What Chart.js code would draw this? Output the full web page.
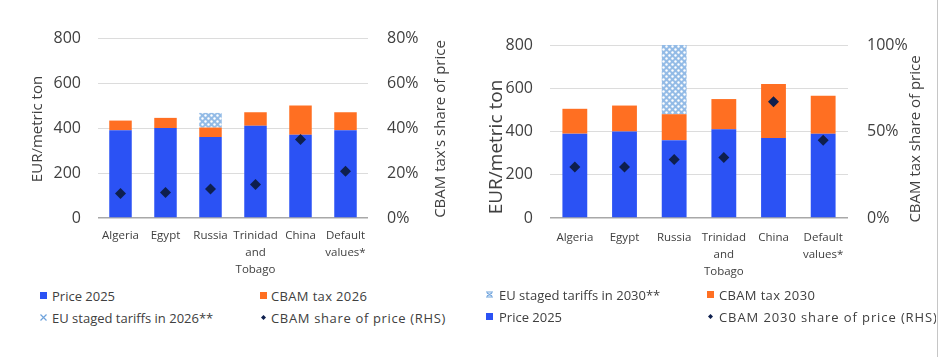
<!DOCTYPE html>
<html><head><meta charset="utf-8">
<script src="https://cdn.jsdelivr.net/npm/chart.js@4/dist/chart.umd.min.js"></script>
<style>
html,body{margin:0;padding:0;background:#fff;}
body{width:939px;height:357px;position:relative;overflow:hidden;font-family:'Open Sans',sans-serif;}
#w1{position:absolute;left:0;top:0;width:470px;height:285px;}
#w2{position:absolute;left:470px;top:0;width:469px;height:285px;}
.vline{position:absolute;left:937px;top:0;width:1px;height:357px;background:#c6c6c6;}
.leg{position:absolute;font-size:13px;color:#404040;white-space:nowrap;line-height:16px;height:16px;}
.leg canvas{position:absolute;left:0;top:0;}
.leg span{position:absolute;top:0;}
#legR{position:absolute;left:480px;top:280px;width:456px;height:60px;overflow:hidden;}
</style>
</head><body>
<div id="w1"><canvas id="c1" width="470" height="285"></canvas></div>
<div id="w2"><canvas id="c2" width="469" height="285"></canvas></div>
<div id="legL"></div>
<div id="legR"></div>
<div class="vline"></div>
<script>
// ---------- data ----------
const categories = ['Algeria', 'Egypt', 'Russia', ['Trinidad', 'and', 'Tobago'], 'China', ['Default', 'values*']];
const price2025 = [390, 400, 360, 410, 370, 390];
const cbamTax2026 = [43, 45, 42, 60, 130, 80];
const euTariffs2026 = [null, null, 65, null, null, null];
const cbamShare2026 = [0.109, 0.113, 0.129, 0.149, 0.349, 0.208];
const cbamTax2030 = [115, 120, 120, 140, 250, 175];
const euTariffs2030 = [null, null, 320, null, null, null];
const cbamShare2030 = [0.295, 0.295, 0.338, 0.349, 0.672, 0.45];
const leftTicksEUR = [0, 200, 400, 600, 800];

// ---------- style ----------
const BLUE = '#2B52F4', ORANGE = '#FF6F22', NAVY = '#0E1F4E', HATCH = '#93BBE6';
Chart.defaults.font.family = "'Open Sans', sans-serif";
Chart.defaults.color = '#404040';

function makePattern(ctx) {
  const c = document.createElement('canvas'); c.width = 6; c.height = 6;
  const g = c.getContext('2d');
  g.fillStyle = HATCH; g.fillRect(0, 0, 6, 6);
  g.fillStyle = '#ffffff';
  g.beginPath(); g.arc(1.5, 1.5, 1.2, 0, Math.PI * 2); g.fill();
  g.beginPath(); g.arc(4.5, 4.5, 1.2, 0, Math.PI * 2); g.fill();
  return ctx.createPattern(c, 'repeat');
}

const titlePlugin = {
  id: 'axisTitles',
  afterDraw(chart, args, opts) {
    const ctx = chart.ctx;
    (opts.items || []).forEach(t => {
      ctx.save();
      ctx.font = t.size + "px 'Open Sans', sans-serif";
      ctx.fillStyle = '#404040';
      ctx.translate(t.x, t.y);
      ctx.rotate(-Math.PI / 2);
      ctx.textAlign = 'center';
      ctx.textBaseline = 'middle';
      ctx.fillText(t.text, 0, 0);
      ctx.restore();
    });
  }
};

function build(canvasId, cfg) {
  const canvas = document.getElementById(canvasId);
  const ctx = canvas.getContext('2d');
  return new Chart(ctx, {
    type: 'bar',
    data: {
      labels: categories,
      datasets: [
        { type: 'line', label: cfg.shareLabel, data: cfg.share, yAxisID: 'y1', showLine: false,
          pointStyle: 'rectRot', pointRadius: 5.5, pointBackgroundColor: NAVY, pointBorderColor: NAVY,
          pointBorderWidth: 0, order: 0 },
        { label: 'Price 2025', data: price2025, backgroundColor: BLUE, stack: 's', order: 1 },
        { label: cfg.taxLabel, data: cfg.tax, backgroundColor: ORANGE, stack: 's', order: 1 },
        { label: cfg.tariffLabel, data: cfg.tariff, backgroundColor: makePattern(ctx), stack: 's', order: 1 }
      ]
    },
    options: {
      responsive: false, animation: false, devicePixelRatio: 1,
      layout: { padding: { top: cfg.top, left: 0, right: 0, bottom: 0 } },
      plugins: { legend: { display: false }, tooltip: { enabled: false }, axisTitles: { items: cfg.titles } },
      datasets: { bar: { categoryPercentage: 1, barPercentage: 0.5 } },
      scales: {
        x: { stacked: true, grid: { display: false, drawTicks: false }, border: { display: false },
          ticks: { font: { size: 11.5, lineHeight: 1.52 }, padding: cfg.xPad, maxRotation: 0, autoSkip: false },
          afterFit: s => { s.height = 67; } },
        y: { stacked: true, min: 0, max: 800,
          afterBuildTicks: s => { s.ticks = leftTicksEUR.map(v => ({ value: v })); },
          ticks: { font: { size: 16 }, padding: 17 },
          grid: { drawTicks: false, color: c => c.tick && c.tick.value === 0 ? '#A8A8A8' : '#DCDCDC',
                  lineWidth: c => c.tick && c.tick.value === 0 ? 1.5 : 1 },
          border: { display: false },
          afterFit: s => { s.width = cfg.leftW; } },
        y1: { position: 'right', min: 0, max: cfg.rMax,
          ticks: { stepSize: cfg.rStep, font: { size: 16 }, padding: 19, callback: v => Math.round(v * 100) + '%' },
          grid: { display: false, drawTicks: false }, border: { display: false },
          afterFit: s => { s.width = cfg.rightW; } }
      }
    },
    plugins: [titlePlugin]
  });
}

build('c1', {
  share: cbamShare2026, tax: cbamTax2026, tariff: euTariffs2026,
  shareLabel: 'CBAM share of price (RHS)', taxLabel: 'CBAM tax 2026', tariffLabel: 'EU staged tariffs in 2026**',
  top: 38, leftW: 98, rightW: 102, rMax: 0.8, rStep: 0.2, xPad: 8.5,
  titles: [
    { text: 'EUR/metric ton', x: 38, y: 129, size: 15 },
    { text: "CBAM tax's share of price", x: 441, y: 129, size: 15 }
  ]
});
build('c2', {
  share: cbamShare2030, tax: cbamTax2030, tariff: euTariffs2030,
  shareLabel: 'CBAM 2030 share of price (RHS)', taxLabel: 'CBAM tax 2030', tariffLabel: 'EU staged tariffs in 2030**',
  top: 45, leftW: 80, rightW: 91, rMax: 1, rStep: 0.5, xPad: 10.5,
  titles: [
    { text: 'EUR/metric ton', x: 27, y: 147, size: 19 },
    { text: 'CBAM tax share of price', x: 446, y: 139, size: 15 }
  ]
});

// ---------- legends ----------
function icon(kind) {
  const c = document.createElement('canvas'); c.width = 9; c.height = 9;
  const g = c.getContext('2d');
  if (kind === 'blue' || kind === 'orange') {
    g.fillStyle = kind === 'blue' ? BLUE : ORANGE; g.fillRect(1, 1, 7, 7);
  } else if (kind === 'diamond') {
    g.fillStyle = NAVY; g.beginPath(); g.moveTo(4.5, 2); g.lineTo(7, 4.5); g.lineTo(4.5, 7); g.lineTo(2, 4.5); g.closePath(); g.fill();
  } else if (kind === 'hatch26') {
    g.strokeStyle = '#6FA3DC'; g.lineWidth = 1.2;
    g.beginPath(); g.moveTo(1.5, 1.5); g.lineTo(7.5, 7.5); g.moveTo(7.5, 1.5); g.lineTo(1.5, 7.5); g.stroke();
  } else {
    g.strokeStyle = '#6FA3DC'; g.lineWidth = 1.2;
    g.beginPath(); g.moveTo(1, 2); g.lineTo(8, 2); g.moveTo(1, 7); g.lineTo(8, 7); g.moveTo(2, 3); g.lineTo(7, 6); g.moveTo(7, 3); g.lineTo(2, 6); g.stroke();
  }
  return c;
}
function addItem(parent, x, y, kind, text, textDx, spacing) {
  const d = document.createElement('div'); d.className = 'leg';
  d.style.left = x + 'px'; d.style.top = y + 'px';
  const ic = icon(kind); ic.style.top = '3px'; d.appendChild(ic);
  const s = document.createElement('span'); s.textContent = text; s.style.left = textDx + 'px';
  if (spacing) s.style.letterSpacing = spacing + 'px';
  d.appendChild(s);
  parent.appendChild(d);
}
const L = document.getElementById('legL');
addItem(L, 39, 288, 'blue', 'Price 2025', 13);
addItem(L, 259, 288, 'orange', 'CBAM tax 2026', 12, 0.35);
addItem(L, 39, 310, 'hatch26', 'EU staged tariffs in 2026**', 13);
addItem(L, 259, 310, 'diamond', 'CBAM share of price (RHS)', 12, 0.65);
const R = document.getElementById('legR');
addItem(R, 5, 7, 'hatch30', 'EU staged tariffs in 2030**', 14);
addItem(R, 226, 7, 'orange', 'CBAM tax 2030', 13, 0.35);
addItem(R, 5, 29, 'blue', 'Price 2025', 14);
addItem(R, 226, 29, 'diamond', 'CBAM 2030 share of price (RHS)', 13, 0.9);
</script>
</body></html>
